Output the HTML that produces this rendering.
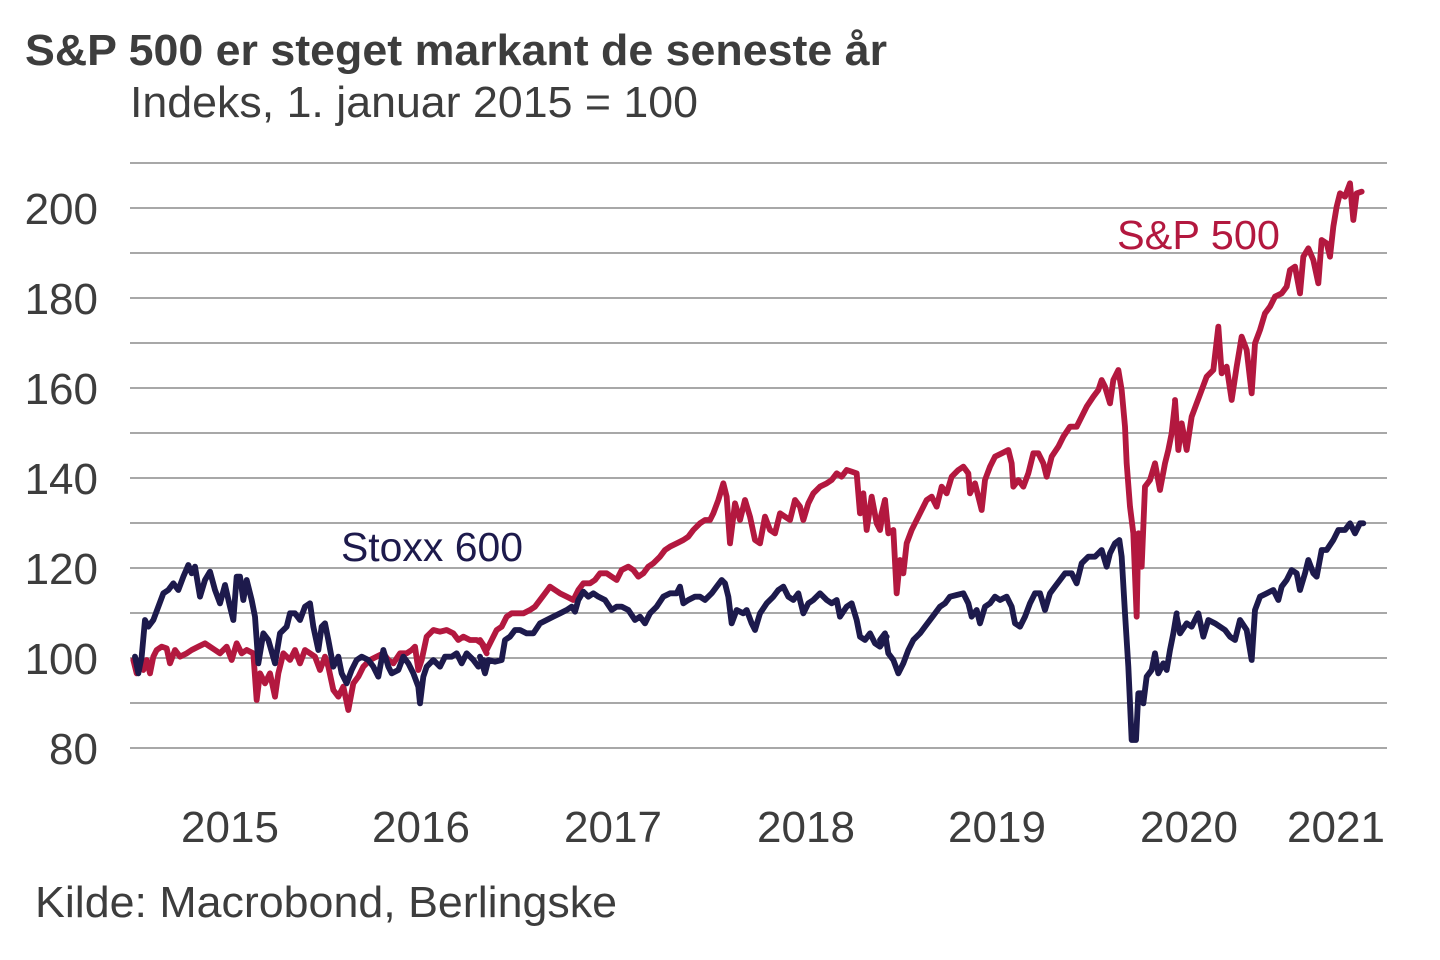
<!DOCTYPE html>
<html>
<head>
<meta charset="utf-8">
<style>
  html,body{margin:0;padding:0;background:#fff;}
  svg{display:block;}
  text{font-family:"Liberation Sans",Arial,sans-serif;}
</style>
</head>
<body>
<svg width="1440" height="960" viewBox="0 0 1440 960" xmlns="http://www.w3.org/2000/svg">
  <rect width="1440" height="960" fill="#ffffff"/>

  <!-- Title -->
  <text x="25" y="65" font-size="44" font-weight="bold" fill="#3d3d3d" textLength="862" lengthAdjust="spacingAndGlyphs">S&amp;P 500 er steget markant de seneste år</text>
  <text x="130" y="117" font-size="44" fill="#3d3d3d" textLength="568" lengthAdjust="spacingAndGlyphs">Indeks, 1. januar 2015 = 100</text>

  <!-- Gridlines -->
  <g stroke="#8c8c8c" stroke-width="1.6">
    <line x1="130" y1="163" x2="1387" y2="163"/>
    <line x1="130" y1="208" x2="1387" y2="208"/>
    <line x1="130" y1="253" x2="1387" y2="253"/>
    <line x1="130" y1="298" x2="1387" y2="298"/>
    <line x1="130" y1="343" x2="1387" y2="343"/>
    <line x1="130" y1="388" x2="1387" y2="388"/>
    <line x1="130" y1="433" x2="1387" y2="433"/>
    <line x1="130" y1="478" x2="1387" y2="478"/>
    <line x1="130" y1="523" x2="1387" y2="523"/>
    <line x1="130" y1="568" x2="1387" y2="568"/>
    <line x1="130" y1="613" x2="1387" y2="613"/>
    <line x1="130" y1="658" x2="1387" y2="658"/>
    <line x1="130" y1="703" x2="1387" y2="703"/>
    <line x1="130" y1="748" x2="1387" y2="748"/>
  </g>

  <!-- Y labels -->
  <g font-size="44" fill="#3d3d3d" text-anchor="end">
    <text x="98" y="224">200</text>
    <text x="98" y="314">180</text>
    <text x="98" y="404">160</text>
    <text x="98" y="494">140</text>
    <text x="98" y="584">120</text>
    <text x="98" y="674">100</text>
    <text x="98" y="764">80</text>
  </g>

  <!-- X labels -->
  <g font-size="44" fill="#3d3d3d" text-anchor="middle">
    <text x="230" y="842">2015</text>
    <text x="421" y="842">2016</text>
    <text x="613" y="842">2017</text>
    <text x="806" y="842">2018</text>
    <text x="997" y="842">2019</text>
    <text x="1189" y="842">2020</text>
    <text x="1336" y="842">2021</text>
  </g>

  <!-- Source -->
  <text x="35" y="917" font-size="44" fill="#3d3d3d" textLength="582" lengthAdjust="spacingAndGlyphs">Kilde: Macrobond, Berlingske</text>

  <!-- Series: S&P 500 (red) drawn first -->
  <g fill="none" stroke="#b3183f" stroke-width="17.5" stroke-linejoin="round" stroke-linecap="round">
    <polyline transform="translate(120,540) scale(0.333333)" points="40,360 50,400 60,370 70,390 80,360 90,400 100,350 110,330 125,320 140,325 150,370 165,330 180,350 200,340 215,330 235,320 255,310 270,320 285,330 300,340 320,320 335,360 350,310 365,340 380,330 400,340 410,480 420,400 435,430 450,400 465,470 475,400 490,340 510,360 525,330 540,370 555,330 570,340 585,350 600,390 615,350 625,380 640,450 655,470 670,440 685,510 700,430 715,410 730,380 750,360 770,350 790,340 805,360 820,370 840,340 860,340 875,330 885,320 895,390 905,360 920,290 940,270 960,275 980,270 1000,280 1015,300 1030,290 1050,300 1070,300 1085,310 1100,340"/>
    <polyline transform="translate(480,440) scale(0.333333)" points="0,600 20,630 35,600 50,570 65,560 80,530 95,520 110,520 130,520 150,510 165,500 180,480 195,460 210,440 225,450 240,460 260,470 280,480 295,450 310,430 330,430 345,420 360,400 380,400 395,410 410,420 425,390 445,380 460,390 475,410 490,400 505,380 520,370 540,350 555,330 570,320 590,310 610,300 625,290 640,270 660,250 675,240 690,240 700,220 715,180 730,130 740,170 750,310 765,190 780,240 795,180 810,230 825,300 840,310 855,230 870,270 885,280 900,220 915,230 930,240 945,180 960,200 970,240 985,190 1000,160 1020,140 1040,130 1055,120 1070,100 1085,110 1100,90 1115,95 1130,100 1140,220 1150,160 1160,270 1175,170 1190,250 1200,270 1215,180"/>
    <polyline transform="translate(880,340) scale(0.333333)" points="0,540 15,480 25,580 40,570 50,760 60,660 70,700 80,610 95,570 110,540 125,510 140,480 155,470 170,500 185,440 200,460 215,410 235,390 250,380 265,400 270,460 285,430 295,470 305,510 315,420 330,380 345,350 365,340 385,330 395,370 400,440 415,420 430,440 445,400 460,340 475,340 490,370 500,410 515,350 535,320 550,290 570,260 590,260 605,230 620,200 640,170 655,150 665,120 675,140 690,190 700,120 715,90 725,150 735,260 740,370 750,500 760,580 770,830 775,580 785,680 795,440 810,420 825,370 840,450 855,370 865,330 875,280 885,190"/>
    <polyline transform="translate(1100,160) scale(0.333333)" points="225,720 235,870 245,790 260,870 275,770 290,730 305,690 320,650 340,630 355,500 365,640 380,620 395,720 410,620 425,530 440,570 455,700 465,550 480,510 495,460 510,440 525,410 545,400 560,380 570,330 585,320 600,400 610,290 625,265 640,300 655,370 665,240 680,250 690,290 700,200 710,140 720,100 735,110 750,70 760,180 770,100 785,95"/>
  </g>

  <!-- Series: Stoxx 600 (navy) -->
  <g fill="none" stroke="#1d1a4c" stroke-width="17.5" stroke-linejoin="round" stroke-linecap="round">
    <polyline transform="translate(120,540) scale(0.333333)" points="45,350 55,400 65,350 75,240 85,260 100,240 115,200 130,160 145,150 160,130 175,150 190,110 205,75 215,100 225,80 240,170 255,120 270,95 285,150 300,190 315,135 330,200 340,240 350,110 360,110 370,180 380,120 395,180 405,230 415,370 430,280 445,300 465,370 480,280 500,260 510,220 525,220 540,240 555,200 570,190 580,260 595,330 605,260 615,250 625,300 640,380 655,350 665,400 680,430 695,390 710,360 725,350 745,360 760,380 775,410 790,330 805,380 815,400 835,390 850,350 865,370 880,400 895,440 900,490 910,410 920,380 940,360 960,380 975,350 995,350 1010,340 1025,370 1040,340 1060,360 1075,380 1090,360"/>
    <polyline transform="translate(480,440) scale(0.333333)" points="0,650 15,700 25,660 45,665 65,660 75,600 90,590 105,570 120,570 140,580 160,580 180,550 200,540 220,530 240,520 260,510 275,500 285,515 295,480 310,455 325,470 340,460 355,470 375,480 395,510 410,500 425,500 445,510 465,540 480,530 495,550 510,520 530,500 550,470 570,460 590,460 600,440 610,490 625,480 645,470 660,470 675,480 695,460 710,440 725,420 735,430 745,470 755,550 770,510 790,520 800,510 815,550 825,570 840,520 860,490 880,470 895,450 910,440 925,470 940,480 955,460 970,520 985,490 1000,480 1020,460 1040,480 1055,490 1070,480 1080,530 1100,500 1115,490 1130,540 1140,590 1155,600 1170,580 1185,610 1200,620 1220,590"/>
    <polyline transform="translate(880,340) scale(0.333333)" points="0,900 15,880 25,940 40,960 55,1000 70,970 85,930 100,900 120,880 135,860 150,840 165,820 180,800 195,790 210,770 230,765 250,760 265,790 275,830 290,810 300,850 315,800 330,790 345,770 360,780 380,770 395,800 405,850 420,860 435,830 450,790 465,760 480,760 495,810 510,760 525,740 540,720 555,700 575,700 590,730 605,670 625,650 645,650 665,630 680,680 690,640 705,610 718,600 725,650 735,820 745,980 755,1200 768,1200 775,1060 785,1060 790,1090 800,1010 815,990 825,940 835,1000 850,970 860,990 870,930 880,880 890,820"/>
    <polyline transform="translate(1100,160) scale(0.333333)" points="230,1370 240,1420 260,1390 275,1400 295,1360 310,1430 325,1380 345,1390 360,1400 375,1410 390,1430 405,1440 420,1380 440,1410 455,1500 465,1350 480,1310 500,1300 520,1290 535,1320 545,1280 560,1260 575,1230 590,1240 600,1290 615,1240 625,1200 640,1240 650,1250 665,1170 680,1170 700,1140 715,1110 735,1110 750,1090 765,1120 780,1090 790,1090"/>
  </g>

  <!-- Series labels -->
  <text x="341" y="561" font-size="41" fill="#1d1a4c" textLength="182" lengthAdjust="spacingAndGlyphs">Stoxx 600</text>
  <text x="1117" y="249" font-size="41" fill="#b3183f" textLength="163" lengthAdjust="spacingAndGlyphs">S&amp;P 500</text>
</svg>
</body>
</html>
